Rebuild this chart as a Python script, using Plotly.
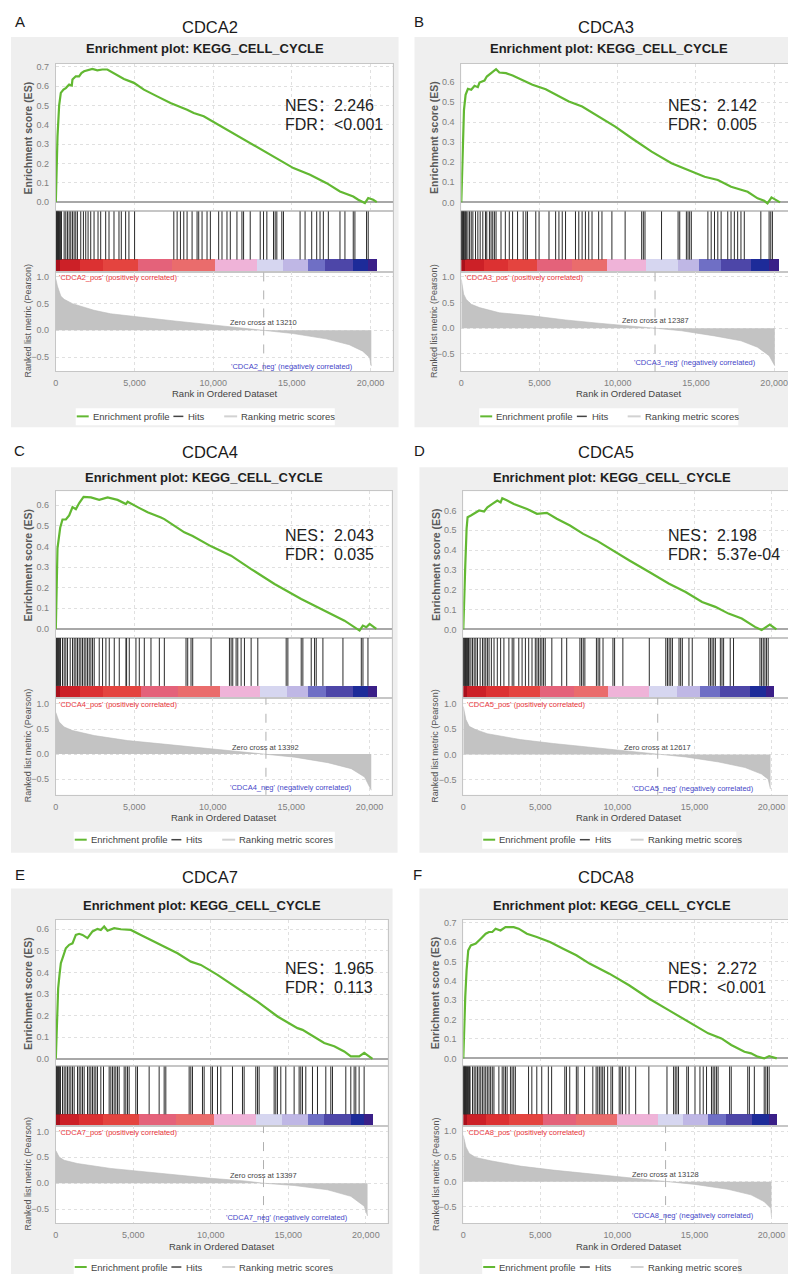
import plotly.graph_objects as go

W, H = 796, 1274

# ---------------- data ----------------
genes = ["CDCA2", "CDCA3", "CDCA4", "CDCA5", "CDCA7", "CDCA8"]
letters = ["A", "B", "C", "D", "E", "F"]
nes_values = ["2.246", "2.142", "2.043", "2.198", "1.965", "2.272"]
fdr_values = ["<0.001", "0.005", "0.035", "5.37e-04", "0.113", "<0.001"]
zero_cross = [13210, 12387, 13392, 12617, 13397, 13128]

# enrichment score curves (rank, ES)
es_rank_A = [0, 63, 106, 211, 317, 486, 634, 845, 1014, 1056, 1267, 1478, 1626, 1795, 2323, 2640, 2957, 3273, 3696, 4330, 4963, 5597, 6441, 7286, 8342, 8764, 9398, 10876, 12355, 13833, 15100, 16156, 17212, 18057, 18902, 19219, 19641, 19852, 20169, 20400]
es_score_A = [0, 0.185, 0.34, 0.50, 0.565, 0.582, 0.59, 0.608, 0.603, 0.634, 0.651, 0.651, 0.668, 0.677, 0.689, 0.682, 0.686, 0.686, 0.665, 0.637, 0.617, 0.582, 0.547, 0.513, 0.478, 0.461, 0.444, 0.375, 0.306, 0.237, 0.176, 0.142, 0.098, 0.055, 0.029, 0.012, -0.005, 0.021, 0.012, 0.0]
es_rank_B = [0, 63, 106, 170, 275, 423, 635, 847, 1058, 1164, 1481, 1630, 1905, 2222, 2434, 2857, 3280, 3915, 4550, 5397, 6032, 6878, 7725, 8783, 9841, 10899, 12169, 13439, 14497, 15556, 16402, 17249, 18307, 18942, 19365, 19577, 19831, 20106, 20381]
es_score_B = [0, 0.21, 0.33, 0.46, 0.537, 0.567, 0.562, 0.582, 0.575, 0.598, 0.608, 0.628, 0.645, 0.665, 0.648, 0.645, 0.633, 0.608, 0.587, 0.565, 0.537, 0.503, 0.478, 0.428, 0.378, 0.32, 0.253, 0.195, 0.162, 0.128, 0.112, 0.078, 0.053, 0.02, 0.008, -0.005, 0.025, 0.012, 0.0]
es_rank_C = [0, 106, 277, 425, 640, 850, 1064, 1277, 1490, 1766, 2234, 2766, 3300, 3936, 4468, 4575, 5213, 5850, 6700, 6915, 8190, 8720, 9900, 11170, 12450, 13940, 15640, 16700, 18190, 18400, 19360, 19570, 19790, 20000, 20430]
es_score_C = [0, 0.39, 0.49, 0.53, 0.53, 0.55, 0.59, 0.58, 0.61, 0.64, 0.637, 0.625, 0.637, 0.625, 0.605, 0.616, 0.59, 0.565, 0.54, 0.532, 0.468, 0.45, 0.40, 0.355, 0.29, 0.218, 0.145, 0.105, 0.048, 0.04, -0.008, 0.016, 0.008, 0.024, 0.0]
es_rank_D = [0, 64, 129, 214, 279, 493, 815, 1029, 1350, 1565, 1886, 2208, 2422, 2529, 2851, 3280, 4137, 4780, 5423, 6066, 6924, 7781, 8639, 9496, 10782, 12069, 13355, 14427, 15498, 16356, 17213, 18071, 18928, 19357, 19678, 19893, 20321]
es_score_D = [0, 0.206, 0.323, 0.508, 0.566, 0.575, 0.591, 0.6, 0.595, 0.616, 0.633, 0.65, 0.641, 0.662, 0.65, 0.633, 0.608, 0.583, 0.588, 0.558, 0.524, 0.482, 0.449, 0.407, 0.348, 0.29, 0.231, 0.189, 0.139, 0.114, 0.08, 0.055, 0.013, -0.003, 0.013, 0.025, 0.0]
es_rank_E = [0, 65, 150, 237, 323, 473, 645, 860, 1075, 1290, 1505, 1720, 2043, 2366, 2688, 2903, 3118, 3333, 3763, 4194, 4839, 5484, 6129, 6989, 7849, 8710, 9355, 10430, 11720, 13011, 14301, 15591, 15914, 16452, 17312, 17957, 18602, 19032, 19570, 19892, 20430]
es_score_E = [0, 0.204, 0.327, 0.389, 0.443, 0.474, 0.512, 0.528, 0.535, 0.574, 0.579, 0.574, 0.559, 0.59, 0.602, 0.597, 0.613, 0.593, 0.605, 0.6, 0.597, 0.574, 0.551, 0.52, 0.489, 0.45, 0.435, 0.389, 0.327, 0.265, 0.196, 0.142, 0.134, 0.112, 0.073, 0.058, 0.034, 0.011, 0.011, 0.027, 0.0]
es_rank_F = [0, 64, 128, 214, 321, 492, 813, 1134, 1455, 1668, 1882, 2096, 2417, 2738, 3273, 3594, 4128, 4770, 5626, 6481, 7337, 8193, 9476, 10759, 12043, 13326, 14610, 15893, 16749, 17390, 18246, 18674, 19102, 19529, 19850, 20342]
es_score_F = [0, 0.197, 0.317, 0.455, 0.557, 0.583, 0.592, 0.617, 0.643, 0.652, 0.652, 0.669, 0.66, 0.677, 0.677, 0.669, 0.643, 0.626, 0.6, 0.566, 0.532, 0.489, 0.437, 0.377, 0.309, 0.249, 0.189, 0.129, 0.103, 0.069, 0.034, 0.026, 0.009, 0.0, 0.012, 0.0]

# ranked list metric (rank, Pearson)
metric_rank_A = [0, 100, 320, 530, 1055, 2430, 3480, 5170, 7700, 9810, 11900, 13210, 15070, 17180, 18650, 19500, 19940, 20050]
metric_value_A = [0.96, 0.83, 0.64, 0.58, 0.50, 0.375, 0.31, 0.25, 0.17, 0.106, 0.044, 0.0, -0.06, -0.16, -0.27, -0.39, -0.51, -0.67]
metric_rank_B = [0, 150, 317, 635, 1164, 2434, 4550, 6667, 8783, 10899, 12387, 14074, 16190, 17883, 18942, 19683, 20042]
metric_value_B = [0.95, 0.66, 0.56, 0.465, 0.40, 0.30, 0.24, 0.16, 0.097, 0.045, 0.0, -0.05, -0.15, -0.245, -0.37, -0.535, -0.73]
metric_rank_C = [0, 213, 532, 1064, 2447, 4574, 6702, 8830, 10957, 13392, 15213, 17340, 18830, 19680, 20106]
metric_value_C = [0.83, 0.64, 0.54, 0.47, 0.37, 0.27, 0.205, 0.14, 0.073, 0.0, -0.06, -0.17, -0.29, -0.457, -0.72]
metric_rank_D = [0, 171, 386, 815, 1565, 3708, 5852, 7996, 10139, 12617, 14427, 16570, 18285, 19357, 19786, 19936]
metric_value_D = [0.95, 0.69, 0.556, 0.49, 0.41, 0.294, 0.216, 0.15, 0.085, 0.0, -0.05, -0.15, -0.26, -0.39, -0.49, -0.686]
metric_rank_E = [0, 215, 538, 1398, 3548, 5699, 7849, 10000, 12150, 13397, 15376, 17527, 19032, 19892, 20107]
metric_value_E = [0.63, 0.506, 0.443, 0.38, 0.285, 0.22, 0.158, 0.095, 0.044, 0.0, -0.044, -0.127, -0.253, -0.443, -0.633]
metric_rank_F = [0, 171, 385, 813, 1775, 3700, 5840, 7979, 10118, 13128, 15037, 17176, 18674, 19529, 19957, 20000]
metric_value_F = [0.92, 0.69, 0.56, 0.48, 0.415, 0.31, 0.23, 0.164, 0.099, 0.0, -0.053, -0.15, -0.26, -0.395, -0.526, -0.69]

# gene-set hit positions (ranks)
hits_A = [0, 20, 50, 80, 110, 140, 170, 200, 240, 280, 320, 360, 528, 634, 739, 845, 950, 1056, 1162, 1267, 1373, 1584, 1753, 1901, 2049, 2218, 2429, 2682, 2851, 3168, 3379, 3696, 4013, 4161, 4435, 4646, 5005, 7498, 7709, 7920, 8131, 8342, 8659, 8976, 9082, 9293, 9610, 9821, 10349, 10560, 10877, 11088, 11510, 11827, 11933, 12355, 12989, 13200, 13411, 13834, 13939, 14045, 14362, 14467, 15523, 15840, 16262, 16579, 16790, 17002, 17318, 18058, 18374, 18902, 19008, 19747, 19853]
hits_B = [0, 30, 60, 100, 140, 180, 230, 280, 320, 423, 529, 635, 741, 910, 1058, 1206, 1375, 1545, 1629, 1799, 1904, 2010, 2116, 2222, 2539, 2814, 3068, 3280, 3597, 3957, 4126, 4232, 4761, 4973, 5607, 6031, 6242, 6454, 6665, 7300, 7512, 7723, 7935, 8147, 8358, 8781, 8993, 9628, 10474, 11532, 11638, 11744, 12802, 13860, 13966, 14389, 14495, 14600, 14706, 15764, 15976, 16187, 16399, 16611, 17034, 17245, 17457, 17668, 17880, 18092, 19150, 19679, 19785, 19890]
hits_C = [0, 30, 60, 100, 140, 180, 220, 260, 300, 426, 532, 638, 745, 915, 1064, 1170, 1277, 1383, 1490, 1596, 1702, 1809, 1915, 2022, 2128, 2234, 2341, 2447, 2766, 2979, 3192, 3405, 3724, 4043, 4469, 4511, 4682, 5107, 5320, 5639, 6065, 6597, 6916, 8299, 8406, 8618, 8725, 9895, 11066, 11172, 11278, 11491, 11598, 11810, 12023, 12449, 12874, 14683, 14790, 15641, 15747, 16279, 16492, 16598, 17024, 18301, 19471, 19577, 19896]
hits_D = [0, 30, 60, 100, 140, 180, 220, 260, 300, 340, 380, 493, 600, 708, 815, 922, 1093, 1244, 1351, 1458, 1565, 1672, 1822, 1994, 2208, 2423, 2637, 2959, 3173, 3280, 3602, 3816, 4031, 4245, 4460, 4674, 4781, 4888, 4995, 5103, 5210, 5317, 5746, 6389, 6711, 7568, 7676, 7783, 7890, 8640, 8748, 8855, 9069, 9712, 9820, 10356, 12071, 13143, 13250, 13358, 13465, 13572, 14001, 14108, 14215, 14644, 14859, 15931, 16038, 16145, 16252, 16360, 16681, 16788, 16895, 17323, 17538, 19253, 19360, 19467, 19574, 19681, 19788]
hits_E = [0, 30, 60, 100, 140, 180, 220, 260, 300, 430, 538, 645, 753, 860, 968, 1075, 1183, 1398, 1505, 1613, 1720, 1828, 2043, 2150, 2258, 2365, 2473, 2580, 2688, 2903, 3075, 3440, 3548, 3655, 3763, 3870, 3978, 4085, 4408, 4515, 4623, 4730, 5160, 5268, 6020, 6665, 6988, 7095, 8600, 8708, 8815, 9460, 9568, 9998, 10105, 10428, 10643, 11395, 12040, 12148, 12900, 13008, 13115, 14083, 14190, 14298, 14513, 14835, 15373, 15695, 15803, 15910, 16125, 16555, 16878, 17415, 17738, 17845, 18705, 19028, 19243, 19350, 19565, 19888]
hits_F = [0, 25, 50, 80, 110, 140, 170, 200, 240, 280, 320, 360, 400, 440, 599, 706, 813, 920, 1027, 1134, 1241, 1348, 1455, 1561, 1668, 1775, 1882, 1989, 2310, 2524, 2631, 2738, 2845, 3059, 3166, 3273, 3380, 4235, 4449, 4770, 5091, 5519, 5733, 6588, 6695, 6909, 7337, 7444, 7872, 8406, 8620, 8727, 8834, 8941, 9048, 9155, 9369, 9583, 9690, 10118, 10225, 10332, 10545, 10759, 11187, 12043, 13219, 13647, 13754, 13861, 13968, 14503, 14610, 15037, 15358, 15572, 15786, 16107, 16214, 16321, 16428, 16535, 17283, 17390, 18460, 18567, 18888, 19529, 19636, 19743, 19850]

# colour-bar segment edges (ranks)
cb_edges_A = [0, 250, 1500, 3000, 5200, 7400, 10100, 12800, 14400, 16000, 17100, 18900, 19800, 20400]
cb_edges_B = [0, 250, 1500, 3000, 4870, 7100, 9310, 11850, 13850, 15240, 16610, 18520, 19680, 20320]
cb_edges_C = [0, 250, 1500, 3000, 5430, 7770, 10430, 12980, 14700, 16060, 17230, 18940, 19890, 20430]
cb_edges_D = [0, 250, 1500, 3000, 5000, 7200, 9390, 12070, 13900, 15390, 16680, 18600, 19680, 20210]
cb_edges_E = [0, 250, 1500, 3000, 5380, 7740, 10220, 12900, 14600, 16240, 17310, 19030, 19890, 20430]
cb_edges_F = [0, 250, 1500, 3000, 5200, 7340, 10010, 12680, 14300, 15890, 17070, 18780, 19850, 20380]
cb_colors = ["#a8101c", "#cc2027", "#dc3132", "#e4443f", "#e4627a", "#ea6c6c", "#efb3d8",
             "#d6d6f0", "#bfb7e5", "#6f6fc5", "#4d46a8", "#1d2b99", "#3a1f88"]

es_ranks = [es_rank_A, es_rank_B, es_rank_C, es_rank_D, es_rank_E, es_rank_F]
es_scores = [es_score_A, es_score_B, es_score_C, es_score_D, es_score_E, es_score_F]
metric_ranks = [metric_rank_A, metric_rank_B, metric_rank_C, metric_rank_D, metric_rank_E, metric_rank_F]
metric_values = [metric_value_A, metric_value_B, metric_value_C, metric_value_D, metric_value_E, metric_value_F]
hits_all = [hits_A, hits_B, hits_C, hits_D, hits_E, hits_F]
cb_edges_all = [cb_edges_A, cb_edges_B, cb_edges_C, cb_edges_D, cb_edges_E, cb_edges_F]

# ---------------- geometry (pixels) ----------------
rows = [
    dict(es_top=54, hits_top=201.5, cb_top=250, cb_bot=262, m_bot=362, xtitle=384, legend=407,
         gray_top=27, gray_bot=418, gene_y=17, letter_y=12, enr_y=39, nes_y=96, fdr_y=115),
    dict(es_top=482, hits_top=629, cb_top=677, cb_bot=689, m_bot=786, xtitle=809, legend=831,
         gray_top=458, gray_bot=844, gene_y=443, letter_y=441, enr_y=468, nes_y=526, fdr_y=545),
    dict(es_top=911, hits_top=1058, cb_top=1106, cb_bot=1118, m_bot=1215, xtitle=1238, legend=1259,
         gray_top=880, gray_bot=1271, gene_y=868, letter_y=866, enr_y=897, nes_y=960, fdr_y=979),
]
geo = [
    dict(x0=45, x1=383, gx0=0, gx1=389, lx0=65, lx1=325, letter_x=9, gene_x=200, nes_x=273),
    dict(x0=452, x1=788, gx0=405, gx1=796, lx0=470, lx1=730, letter_x=410, gene_x=597, nes_x=657),
    dict(x0=45, x1=382, gx0=0, gx1=388, lx0=63, lx1=325, letter_x=9, gene_x=200, nes_x=273),
    dict(x0=454, x1=785, gx0=410, gx1=796, lx0=473, lx1=728, letter_x=410, gene_x=597, nes_x=657),
    dict(x0=45, x1=378, gx0=0, gx1=383, lx0=63, lx1=320, letter_x=9, gene_x=200, nes_x=273),
    dict(x0=454, x1=785, gx0=410, gx1=796, lx0=473, lx1=730, letter_x=408, gene_x=597, nes_x=657),
]
es_yrange = [[-0.047, 0.715], [-0.044, 0.691], [-0.044, 0.667], [-0.043, 0.697], [-0.035, 0.645], [-0.041, 0.716]]
m_yrange = [[-0.77, 1.1], [-0.84, 1.1], [-0.81, 1.12], [-0.80, 1.12], [-0.77, 1.1], [-0.82, 1.1]]
XMAX = 21400


def fx(px):
    return px / W


def fy(py):
    return 1 - py / H


def sfx(k):
    return "" if k == 1 else str(k)


FONT = "Liberation Sans, Arial, Noto Sans CJK SC, sans-serif"
tickfont = dict(family=FONT, size=9, color="#808080")
GREEN = "#62b832"
GRID = "#e0e0e0"

fig = go.Figure()
layout = {}
shapes = []
ann = []

for p in range(6):
    R = rows[p // 2]
    G = geo[p]
    k_es, k_hit, k_m = 3 * p + 1, 3 * p + 2, 3 * p + 3
    xd = [fx(G["x0"]), fx(G["x1"])]

    # panel background and white plotting area
    shapes.append(dict(type="rect", xref="paper", yref="paper", x0=fx(G["gx0"]), x1=fx(G["gx1"]),
                       y0=fy(R["gray_bot"]), y1=fy(R["gray_top"]), fillcolor="#efefef",
                       line=dict(width=0), layer="below"))
    shapes.append(dict(type="rect", xref="paper", yref="paper", x0=xd[0], x1=xd[1],
                       y0=fy(R["m_bot"]), y1=fy(R["es_top"]), fillcolor="white",
                       line=dict(width=0), layer="below"))

    base_x = dict(range=[0, XMAX], domain=xd, showline=True, linecolor="#c6c6c6", linewidth=1,
                  mirror=True, zeroline=False, tick0=0, dtick=5000, gridcolor=GRID,
                  griddash="dot", gridwidth=1, fixedrange=True)
    base_y = dict(showline=True, linecolor="#c6c6c6", linewidth=1, mirror=True, fixedrange=True,
                  gridcolor=GRID, griddash="dot", gridwidth=1)

    # ES axes
    layout["xaxis" + sfx(k_es)] = dict(base_x, anchor="y" + sfx(k_es), showgrid=True,
                                        showticklabels=False, ticks="")
    layout["yaxis" + sfx(k_es)] = dict(base_y, domain=[fy(R["hits_top"]), fy(R["es_top"])],
                                        anchor="x" + sfx(k_es), range=es_yrange[p], tick0=0, dtick=0.1,
                                        tickformat=".1f", showgrid=True, zeroline=True,
                                        zerolinecolor="#a8a8a8", zerolinewidth=1.5, ticks="outside",
                                        ticklen=4, tickcolor="rgba(0,0,0,0)", tickfont=tickfont)
    # hits axes
    layout["xaxis" + sfx(k_hit)] = dict(base_x, anchor="y" + sfx(k_hit), showgrid=False,
                                         showticklabels=False, ticks="")
    layout["yaxis" + sfx(k_hit)] = dict(base_y, domain=[fy(R["cb_bot"]), fy(R["hits_top"])],
                                         anchor="x" + sfx(k_hit), range=[0, 1], showgrid=False,
                                         zeroline=False, showticklabels=False, ticks="")
    # metric axes
    layout["xaxis" + sfx(k_m)] = dict(base_x, anchor="y" + sfx(k_m), showgrid=True,
                                       showticklabels=True, tickformat=",d", ticks="outside",
                                       ticklen=3, tickcolor="rgba(0,0,0,0)", tickfont=tickfont)
    layout["yaxis" + sfx(k_m)] = dict(base_y, domain=[fy(R["m_bot"]), fy(R["cb_bot"])],
                                       anchor="x" + sfx(k_m), range=m_yrange[p], tick0=0, dtick=0.5,
                                       tickformat=".1f", showgrid=True, zeroline=False,
                                       ticks="outside", ticklen=4, tickcolor="rgba(0,0,0,0)",
                                       tickfont=tickfont)

    cb_frac = (R["cb_bot"] - R["cb_top"]) / (R["cb_bot"] - R["hits_top"])

    # metric fill
    fig.add_trace(go.Scatter(x=metric_ranks[p], y=metric_values[p], mode="lines", fill="tozeroy",
                             fillcolor="#c3c3c3", line=dict(color="#bababa", width=0.6),
                             xaxis="x" + sfx(k_m), yaxis="y" + sfx(k_m), hoverinfo="skip"))
    # colour bar
    e = cb_edges_all[p]
    centers = [(e[i] + e[i + 1]) / 2 for i in range(len(e) - 1)]
    widths = [e[i + 1] - e[i] for i in range(len(e) - 1)]
    fig.add_trace(go.Bar(x=centers, y=[cb_frac] * len(centers), width=widths, base=0,
                         marker=dict(color=cb_colors, line=dict(width=0)),
                         xaxis="x" + sfx(k_hit), yaxis="y" + sfx(k_hit), hoverinfo="skip"))
    # hits
    hx, hy = [], []
    for h in hits_all[p]:
        hx += [h, h, None]
        hy += [cb_frac, 1, None]
    fig.add_trace(go.Scatter(x=hx, y=hy, mode="lines", line=dict(color="#2a2a2a", width=1),
                             xaxis="x" + sfx(k_hit), yaxis="y" + sfx(k_hit), hoverinfo="skip"))
    # ES curve
    fig.add_trace(go.Scatter(x=es_ranks[p], y=es_scores[p], mode="lines",
                             line=dict(color=GREEN, width=2.2),
                             xaxis="x" + sfx(k_es), yaxis="y" + sfx(k_es), hoverinfo="skip"))

    # zero cross line
    shapes.append(dict(type="line", xref="x" + sfx(k_m), yref="y" + sfx(k_m) + " domain",
                       x0=zero_cross[p], x1=zero_cross[p], y0=0, y1=1,
                       line=dict(color="#b0b0b0", width=1, dash="dash")))
    ann.append(dict(text="Zero cross at %d" % zero_cross[p], x=zero_cross[p], y=0.14,
                    xref="x" + sfx(k_m), yref="y" + sfx(k_m), showarrow=False,
                    font=dict(family=FONT, size=7.5, color="#444444"), xanchor="center", yanchor="middle"))
    ann.append(dict(text="'%s_pos' (positively correlated)" % genes[p], x=100, y=0.985,
                    xref="x" + sfx(k_m), yref="y" + sfx(k_m), showarrow=False,
                    font=dict(family=FONT, size=7.5, color="#e8343a"), xanchor="left", yanchor="middle"))
    ann.append(dict(text="'%s_neg' (negatively correlated)" % genes[p], x=19000, y=-0.67,
                    xref="x" + sfx(k_m), yref="y" + sfx(k_m), showarrow=False,
                    font=dict(family=FONT, size=7.5, color="#4646c8"), xanchor="right", yanchor="middle"))

    # titles and labels
    ann.append(dict(text=letters[p], x=fx(G["letter_x"]), y=fy(R["letter_y"]), xref="paper", yref="paper",
                    showarrow=False, font=dict(family=FONT, size=15, color="#1a1a1a"),
                    xanchor="center", yanchor="middle"))
    ann.append(dict(text=genes[p], x=fx(G["gene_x"]), y=fy(R["gene_y"]), xref="paper", yref="paper",
                    showarrow=False, font=dict(family=FONT, size=16.5, color="#1a1a1a"),
                    xanchor="center", yanchor="middle"))
    ann.append(dict(text="<b>Enrichment plot: KEGG_CELL_CYCLE</b>", x=fx((G["gx0"] + G["gx1"]) / 2),
                    y=fy(R["enr_y"]), xref="paper", yref="paper", showarrow=False,
                    font=dict(family=FONT, size=13, color="#1e1e1e"), xanchor="center", yanchor="middle"))
    ann.append(dict(text="<b>Enrichment score (ES)</b>", x=fx(G["x0"] - 28),
                    y=fy((R["es_top"] + R["hits_top"]) / 2), xref="paper", yref="paper", showarrow=False,
                    textangle=-90, font=dict(family=FONT, size=10.5, color="#5a5a5a"),
                    xanchor="center", yanchor="middle"))
    ann.append(dict(text="Ranked list metric (Pearson)", x=fx(G["x0"] - 28),
                    y=fy((R["cb_bot"] + R["m_bot"]) / 2 - 1), xref="paper", yref="paper", showarrow=False,
                    textangle=-90, font=dict(family=FONT, size=9, color="#555555"),
                    xanchor="center", yanchor="middle"))
    ann.append(dict(text="Rank in Ordered Dataset", x=fx((G["x0"] + G["x1"]) / 2), y=fy(R["xtitle"]),
                    xref="paper", yref="paper", showarrow=False,
                    font=dict(family=FONT, size=9.5, color="#444444"), xanchor="center", yanchor="middle"))
    ann.append(dict(text="NES：" + nes_values[p], x=fx(G["nes_x"]), y=fy(R["nes_y"]), xref="paper",
                    yref="paper", showarrow=False, font=dict(family=FONT, size=16, color="#222222"),
                    xanchor="left", yanchor="middle"))
    ann.append(dict(text="FDR：" + fdr_values[p], x=fx(G["nes_x"]), y=fy(R["fdr_y"]), xref="paper",
                    yref="paper", showarrow=False, font=dict(family=FONT, size=16, color="#222222"),
                    xanchor="left", yanchor="middle"))

    # legend
    ly = R["legend"]
    lx = G["lx0"]
    shapes.append(dict(type="rect", xref="paper", yref="paper", x0=fx(G["lx0"]), x1=fx(G["lx1"]),
                       y0=fy(ly + 9), y1=fy(ly - 8), fillcolor="white", line=dict(width=0), layer="below"))
    for (a, b, col, wd) in [(1, 13, GREEN, 2), (98, 108, "#444444", 1.5), (149, 162, "#d2d2d2", 2)]:
        shapes.append(dict(type="line", xref="paper", yref="paper", x0=fx(lx + a), x1=fx(lx + b),
                           y0=fy(ly), y1=fy(ly), line=dict(color=col, width=wd)))
    for (a, t) in [(15, "Enrichment profile"), (111, "Hits"), (164, "Ranking metric scores")]:
        ann.append(dict(text=t, x=fx(lx + a), y=fy(ly), xref="paper", yref="paper", showarrow=False,
                        font=dict(family=FONT, size=9.5, color="#444444"), xanchor="left", yanchor="middle"))

fig.update_layout(width=W, height=H, margin=dict(l=0, r=0, t=0, b=0), paper_bgcolor="white",
                  plot_bgcolor="white", showlegend=False, shapes=shapes, annotations=ann,
                  font=dict(family=FONT), bargap=0, **layout)

fig.write_html("out.html")
